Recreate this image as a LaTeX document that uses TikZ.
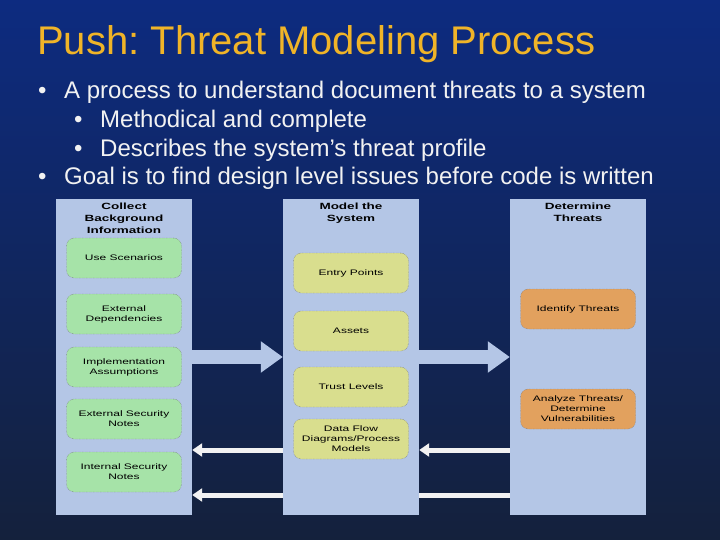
\documentclass[tikz,border=0pt]{standalone}
\usepackage{fontspec}
\setmainfont{Liberation Sans}
\newfontfamily\boxfont[FakeStretch=1.5]{Liberation Sans}
\usetikzlibrary{arrows.meta,backgrounds}
\definecolor{slidetop}{HTML}{0D2B80}
\definecolor{slidemid}{HTML}{1E4AAA}
\definecolor{slidebot}{HTML}{14213C}
\definecolor{titlegold}{HTML}{F0B428}
\definecolor{colbg}{HTML}{B4C6E6}
\definecolor{bggreen}{HTML}{A6E3A8}
\definecolor{sysyellow}{HTML}{D9DE8E}
\definecolor{throrange}{HTML}{E2A15E}
\frenchspacing

\tikzset{
  column/.style={fill=colbg, minimum width=136pt, minimum height=316pt, inner sep=0pt},
  coltitle/.style={anchor=north, align=center, inner sep=0pt,
    font=\fontsize{9}{12}\boxfont\bfseries},
  task/.style={rounded corners=8pt, draw=black!60, densely dotted, align=center,
    minimum width=115pt, minimum height=40pt, inner sep=1pt,
    font=\fontsize{8}{10}\boxfont},
  bigarrow/.style={draw=colbg, line width=14pt, -{Triangle[length=22pt,width=30pt]}},
  backarrow/.style={draw=white!95!black, line width=5pt, -{Triangle[length=10pt,width=13pt]}},
  point/.style={anchor=base west, inner sep=0pt, text=white!95!black,
    font=\fontsize{24}{28}\selectfont}
}

\begin{document}
\begin{tikzpicture}[x=1pt,y=-1pt]
  \useasboundingbox (0,0) rectangle (720,540);
  \begin{scope}[on background layer]
    \shade[top color=slidetop, middle color=slidemid, bottom color=slidebot] (0,0) rectangle (720,540);
  \end{scope}

  % title and bullets
  \node[anchor=base west, inner sep=0pt, text=titlegold, font=\fontsize{40}{44}\selectfont] (title) at (37,55) {Push: Threat Modeling Process};
  \node[point] (p1) at (38,99) {\makebox[26pt][l]{\textbullet}A process to understand document threats to a system};
  \node[point] (p2) at (74,128) {\makebox[26pt][l]{\textbullet}Methodical and complete};
  \node[point] (p3) at (74,157) {\makebox[26pt][l]{\textbullet}Describes the system’s threat profile};
  \node[point] (p4) at (38,185) {\makebox[26pt][l]{\textbullet}Goal is to find design level issues before code is written};

  % the three phases
  \node[column] (collect) at (124,357) {};
  \node[column] (model) at (351,357) {};
  \node[column] (threats) at (578,357) {};
  \node[coltitle] (collecthead) at ([yshift=-4pt]collect.north) {Collect\\Background\\Information};
  \node[coltitle] (modelhead) at ([yshift=-4pt]model.north) {Model the\\System};
  \node[coltitle] (threatshead) at ([yshift=-4pt]threats.north) {Determine\\Threats};

  \node[task, fill=bggreen] (scen) at (124,258) {Use Scenarios};
  \node[task, fill=bggreen] (deps) at (124,314) {External\\Dependencies};
  \node[task, fill=bggreen] (impl) at (124,367) {Implementation\\Assumptions};
  \node[task, fill=bggreen] (extsec) at (124,419) {External Security\\Notes};
  \node[task, fill=bggreen] (intsec) at (124,472) {Internal Security\\Notes};

  \node[task, fill=sysyellow] (entry) at (351,273) {Entry Points};
  \node[task, fill=sysyellow] (assets) at (351,331) {Assets};
  \node[task, fill=sysyellow] (trust) at (351,387) {Trust Levels};
  \node[task, fill=sysyellow] (dfd) at (351,439) {Data Flow\\Diagrams/Process\\Models};

  \node[task, fill=throrange] (ident) at (578,309) {Identify Threats};
  \node[task, fill=throrange] (analyze) at (578,409) {Analyze Threats/\\Determine\\Vulnerabilities};

  % flow between phases
  \draw[bigarrow] (collect.east) -- (model.west);
  \draw[bigarrow] (model.east) -- (threats.west);
  \draw[backarrow] ([yshift=-93pt]threats.west) -- ([yshift=-93pt]model.east);
  \draw[backarrow] ([yshift=-93pt]model.west) -- ([yshift=-93pt]collect.east);
  \begin{scope}[on background layer]
    \draw[backarrow] ([yshift=-138pt]threats.west) -- ([yshift=-138pt]collect.east);
  \end{scope}
\end{tikzpicture}
\end{document}
